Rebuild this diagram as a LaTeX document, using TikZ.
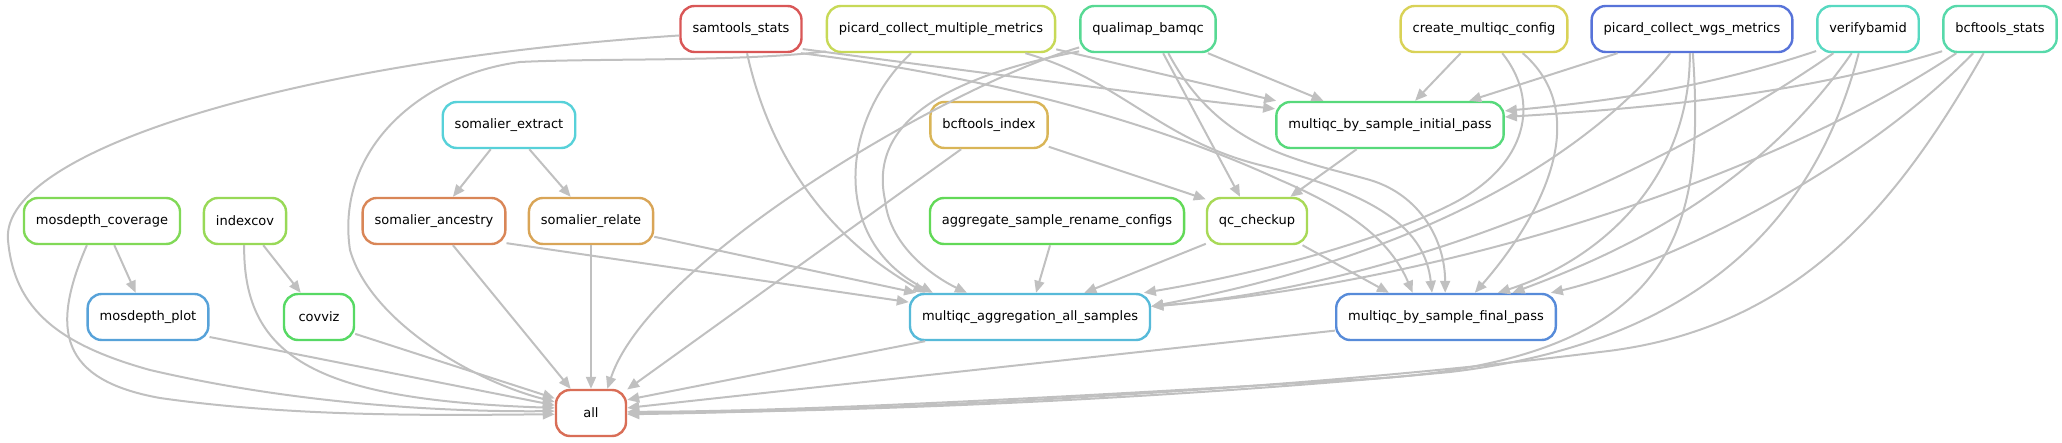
\documentclass[tikz,border=0pt]{standalone}
\usepackage{fontspec}
\setmainfont{DejaVu Sans}
\usepackage{color}
\usetikzlibrary{arrows.meta}

\definecolor{edgegray}{RGB}{192,192,192}
\definecolor{cSamtools}{HTML}{D95757}
\definecolor{cPicardMM}{HTML}{C7D957}
\definecolor{cQualimap}{HTML}{57D993}
\definecolor{cMqcConfig}{HTML}{D9D257}
\definecolor{cPicardWgs}{HTML}{5773D9}
\definecolor{cVerify}{HTML}{57D9C1}
\definecolor{cBcfStats}{HTML}{57D9AA}
\definecolor{cSomExtract}{HTML}{57D1D9}
\definecolor{cBcfIndex}{HTML}{D9B557}
\definecolor{cInitPass}{HTML}{57D97B}
\definecolor{cMdCov}{HTML}{81D957}
\definecolor{cIndexcov}{HTML}{98D957}
\definecolor{cSomAnc}{HTML}{D98657}
\definecolor{cSomRel}{HTML}{D9A557}
\definecolor{cAggCfg}{HTML}{62D957}
\definecolor{cQcCheck}{HTML}{A8D957}
\definecolor{cMdPlot}{HTML}{57A2D9}
\definecolor{cCovviz}{HTML}{57D964}
\definecolor{cMqcAgg}{HTML}{57BAD9}
\definecolor{cFinalPass}{HTML}{578BD9}
\definecolor{cAll}{HTML}{D96E57}

\begin{document}
\begin{tikzpicture}[x=1pt,y=-1pt,
  rule/.style={draw=#1, line width=2.4pt, rounded corners=14pt, fill=white,
    minimum height=46pt, minimum width=70pt, inner xsep=12pt,
    font=\fontsize{13}{15}\selectfont},
  dep/.style={draw=edgegray, line width=2pt, -{Triangle[length=12pt,width=10pt]}}]
\useasboundingbox (0,0) rectangle (2062,443);

\node [rule=cSamtools] (samtools) at (741,29) {samtools\_stats};
\node [rule=cPicardMM] (picardmm) at (941,29) {picard\_collect\_multiple\_metrics};
\node [rule=cQualimap] (qualimap) at (1148,29) {qualimap\_bamqc};
\node [rule=cMqcConfig] (mqcconfig) at (1484,29) {create\_multiqc\_config};
\node [rule=cPicardWgs] (picardwgs) at (1692,29) {picard\_collect\_wgs\_metrics};
\node [rule=cVerify] (verify) at (1868,29) {verifybamid};
\node [rule=cBcfStats] (bcfstats) at (2000,29) {bcftools\_stats};

\node [rule=cSomExtract] (somextract) at (509,125) {somalier\_extract};
\node [rule=cBcfIndex] (bcfindex) at (989,125) {bcftools\_index};
\node [rule=cInitPass] (initpass) at (1390,125) {multiqc\_by\_sample\_initial\_pass};

\node [rule=cMdCov] (mdcov) at (102,221) {mosdepth\_coverage};
\node [rule=cIndexcov] (indexcov) at (245,221) {indexcov};
\node [rule=cSomAnc] (somanc) at (434,221) {somalier\_ancestry};
\node [rule=cSomRel] (somrel) at (591,221) {somalier\_relate};
\node [rule=cAggCfg] (aggcfg) at (1057,221) {aggregate\_sample\_rename\_configs};
\node [rule=cQcCheck] (qccheck) at (1257,221) {qc\_checkup};

\node [rule=cMdPlot] (mdplot) at (148,317) {mosdepth\_plot};
\node [rule=cCovviz] (covviz) at (319,317) {covviz};
\node [rule=cMqcAgg] (mqcagg) at (1030,317) {multiqc\_aggregation\_all\_samples};
\node [rule=cFinalPass] (finalpass) at (1446,317) {multiqc\_by\_sample\_final\_pass};

\node [rule=cAll] (all) at (591,413) {all};

% into all, from the left
\draw[dep] (samtools.-174) .. controls (300,60) and (0,150) .. (8,240) .. controls (14,310) and (60,345) .. (150,370) .. controls (300,405) and (450,412) .. (all.177);
\draw[dep] (picardmm.-169) .. controls (740,62) and (600,58) .. (520,62) .. controls (420,75) and (335,150) .. (350,250) .. controls (370,320) and (470,380) .. (all.163);
\draw[dep] (mdcov.-122) .. controls (50,330) and (60,380) .. (160,398) .. controls (300,418) and (450,415) .. (all.182);
\draw[dep] (indexcov.-92) .. controls (243,360) and (320,400) .. (all.172);
\draw[dep] (mdplot.-18) -- (all.168);
\draw[dep] (covviz.-25) -- (all.158);
\draw[dep] (mdcov.-63) -- (mdplot.117);
\draw[dep] (indexcov.-53) -- (covviz.127);

% somalier
\draw[dep] (somextract.-127) -- (somanc.52);
\draw[dep] (somextract.-50) -- (somrel.130);
\draw[dep] (somanc.-52) -- (all.130);
\draw[dep] (somrel.south) -- (all.north);
\draw[dep] (somanc.-17) -- (mqcagg.173);
\draw[dep] (somrel.-14) -- (mqcagg.168);

% into multiqc_aggregation_all_samples
\draw[dep] (samtools.-76) .. controls (775,180) and (850,250) .. (mqcagg.167);
\draw[dep] (picardmm.-141) .. controls (840,120) and (830,240) .. (mqcagg.166);
\draw[dep] (qualimap.-162) .. controls (930,80) and (870,130) .. (885,200) .. controls (890,250) and (940,280) .. (mqcagg.159);
\draw[dep] (aggcfg.-106) -- (mqcagg.76);
\draw[dep] (qccheck.-156) -- (mqcagg.24);
\draw[dep] (mqcconfig.-53) .. controls (1540,100) and (1530,165) .. (1450,205) .. controls (1370,245) and (1250,275) .. (mqcagg.12);
\draw[dep] (picardwgs.-132) .. controls (1600,140) and (1450,250) .. (mqcagg.5);
\draw[dep] (verify.-145) .. controls (1650,180) and (1400,285) .. (mqcagg.5);
\draw[dep] (bcfstats.-151) .. controls (1750,190) and (1420,285) .. (mqcagg.5);

% into multiqc_by_sample_initial_pass
\draw[dep] (samtools.-18) .. controls (1000,75) and (1150,95) .. (initpass.172);
\draw[dep] (picardmm.-10) -- (initpass.168);
\draw[dep] (qualimap.-22) -- (initpass.160);
\draw[dep] (mqcconfig.-134) -- (initpass.44);
\draw[dep] (picardwgs.-162) -- (initpass.17);
\draw[dep] (verify.-157) .. controls (1700,90) and (1600,102) .. (initpass.7);
\draw[dep] (bcfstats.-159) .. controls (1800,95) and (1650,108) .. (initpass.4);

% qc_checkup
\draw[dep] (bcfindex.-20) -- (qccheck.157);
\draw[dep] (qualimap.-58) -- (qccheck.125);
\draw[dep] (initpass.-144) -- (qccheck.36);
\draw[dep] (bcfindex.-139) -- (all.33);
\draw[dep] (qualimap.-165) .. controls (950,85) and (650,260) .. (all.56);

% into multiqc_by_sample_final_pass
\draw[dep] (qccheck.-28) -- (finalpass.157);
\draw[dep] (samtools.-22) .. controls (980,75) and (1150,120) .. (1280,180) .. controls (1350,210) and (1390,240) .. (finalpass.144);
\draw[dep] (picardmm.-16) .. controls (1120,80) and (1160,140) .. (1260,165) .. controls (1380,195) and (1425,230) .. (finalpass.120);
\draw[dep] (qualimap.-50) .. controls (1220,150) and (1300,160) .. (1370,180) .. controls (1420,195) and (1445,240) .. (finalpass.92);
\draw[dep] (mqcconfig.-32) .. controls (1600,120) and (1530,230) .. (finalpass.40);
\draw[dep] (picardwgs.-95) .. controls (1690,180) and (1600,260) .. (finalpass.25);
\draw[dep] (verify.-124) .. controls (1750,200) and (1600,260) .. (finalpass.20);
\draw[dep] (bcfstats.-138) .. controls (1850,180) and (1650,270) .. (finalpass.13);

% into all, from the right
\draw[dep] (mqcagg.-167) -- (all.20);
\draw[dep] (finalpass.-173) -- (all.8);
\draw[dep] (picardwgs.-88) .. controls (1705,230) and (1680,365) .. (1350,380) .. controls (1100,395) and (800,412) .. (all.2);
\draw[dep] (verify.-111) .. controls (1820,200) and (1720,340) .. (1450,372) .. controls (1100,405) and (800,412) .. (all.0);
\draw[dep] (bcfstats.-124) .. controls (1900,200) and (1800,330) .. (1600,352) .. controls (1300,390) and (900,410) .. (all.-2);
\end{tikzpicture}
\end{document}
